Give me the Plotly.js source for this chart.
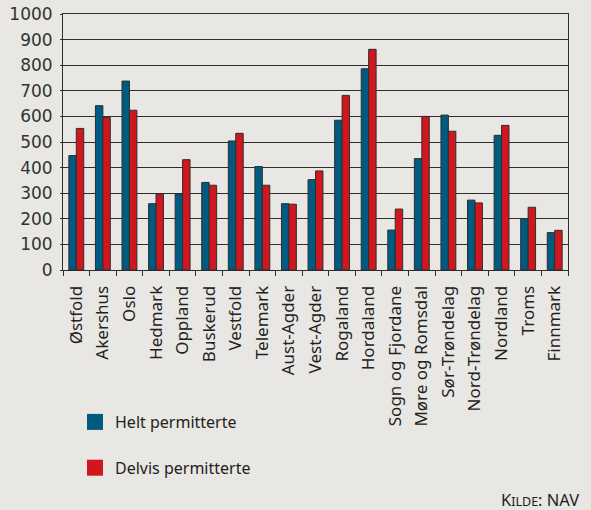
<!DOCTYPE html>
<html>
<head>
<meta charset="utf-8">
<script src="https://cdn.plot.ly/plotly-3.0.1.min.js"></script>
<style>html,body{margin:0;padding:0;background:#e8e7e3;}</style>
</head>
<body>
<div id="chart" style="width:591px;height:510px;"></div>
<script>
const counties = ["Østfold","Akershus","Oslo","Hedmark","Oppland","Buskerud","Vestfold","Telemark","Aust-Agder","Vest-Agder","Rogaland","Hordaland","Sogn og Fjordane","Møre og Romsdal","Sør-Trøndelag","Nord-Trøndelag","Nordland","Troms","Finnmark"];
const heltPermitterte = [447,642,738,259,297,342,504,404,259,353,585,786,156,435,605,273,526,200,146];
const delvisPermitterte = [553,596,624,296,431,331,534,331,257,387,682,862,238,600,542,262,565,245,155];
const seriesNames = ["Helt permitterte","Delvis permitterte"];
const yTicks = [0,100,200,300,400,500,600,700,800,900,1000];

const blue = "#005b80", red = "#d0161f";
const lineCol = "#2e2e2e";

const traces = [
  {type:"bar", x:counties, y:heltPermitterte, name:seriesNames[0], showlegend:false,
   marker:{color:blue, line:{color:lineCol, width:1}}},
  {type:"bar", x:counties, y:delvisPermitterte, name:seriesNames[1], showlegend:false,
   marker:{color:red, line:{color:lineCol, width:1}}},
  {type:"scatter", mode:"markers", x:[null], y:[null], name:seriesNames[0], legendgroup:"a",
   marker:{symbol:"square", size:16, color:blue, line:{width:0}}, hoverinfo:"skip"},
  {type:"scatter", mode:"markers", x:[null], y:[null], name:seriesNames[1], legendgroup:"b",
   marker:{symbol:"square", size:16, color:red, line:{width:0}}, hoverinfo:"skip"}
];

const layout = {
  width:591, height:510, autosize:false,
  paper_bgcolor:"#e8e7e3", plot_bgcolor:"#e8e7e3",
  margin:{l:63, r:23, t:14, b:240, pad:0, autoexpand:false},
  barmode:"group", bargap:0.44, bargroupgap:0,
  font:{family:"Noto Sans, sans-serif", color:"#222"},
  xaxis:{type:"category", categoryorder:"array", categoryarray:counties,
    tickmode:"array", tickvals:counties, ticktext:counties, automargin:false,
    tickangle:-90, tickson:"boundaries", ticks:"outside", ticklen:5, tickcolor:lineCol,
    showline:true, linecolor:lineCol, linewidth:1, mirror:true, showgrid:false,
    tickfont:{family:"Noto Sans, sans-serif", size:17, color:"#222"}, ticklabelstandoff:8},
  yaxis:{range:[0,1000], tickvals:yTicks, ticktext:yTicks.map(String), automargin:false,
    showgrid:true, gridcolor:lineCol, gridwidth:1, zeroline:false,
    showline:true, linecolor:lineCol, linewidth:1, mirror:true,
    ticks:"outside", ticklen:2, tickcolor:lineCol, ticklabelstandoff:4,
    tickfont:{family:"DejaVu Sans, sans-serif", size:17, color:"#333"}},
  legend:{xref:"container", yref:"container", x:75/591, y:1-405/510, xanchor:"left", yanchor:"top",
    bgcolor:"rgba(0,0,0,0)", traceorder:"grouped", tracegroupgap:22,
    font:{family:"Noto Sans, sans-serif", size:16, color:"#222"}},
  annotations:[{xref:"paper", yref:"paper", x:(581-63)/505, y:(270-499)/256, xanchor:"right", yanchor:"middle",
    showarrow:false, text:"K<span style='font-size:12.5px'>ILDE</span>: NAV",
    font:{family:"Noto Sans, sans-serif", size:16.5, color:"#222"}}]
};

Plotly.newPlot("chart", traces, layout, {displayModeBar:false, staticPlot:true});
</script>
</body>
</html>
